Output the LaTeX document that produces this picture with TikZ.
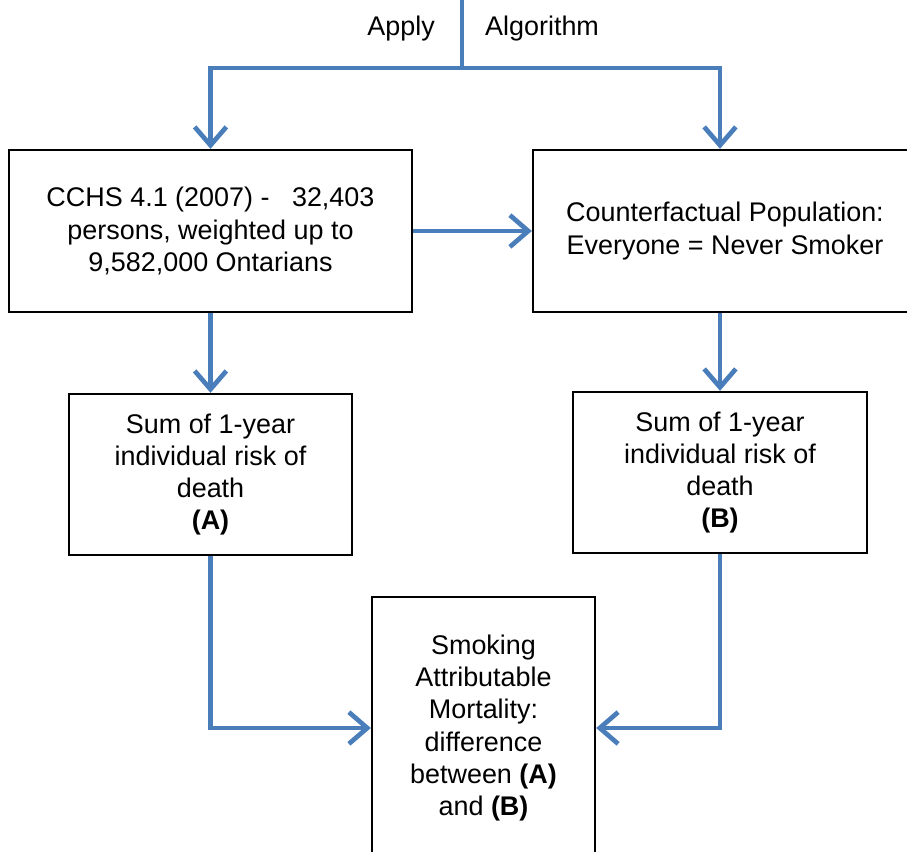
\documentclass[tikz,border=0pt]{standalone}
\usepackage{fontspec}
\setmainfont{Liberation Sans}
\usepackage{tikz}
\usetikzlibrary{arrows.meta,positioning}
\definecolor{FlowBlue}{HTML}{4A7EBB}

\tikzset{
    stagebox/.style={draw=black, line width=2pt, align=center, inner sep=0pt,
        font=\fontsize{23}{27.5}\selectfont},
    flow/.style={draw=FlowBlue, line width=4pt,
        -{Straight Barb[length=0.55cm,width=0.95cm,line width=4pt]}},
}

\begin{document}
\begin{tikzpicture}[x=0.03cm,y=-0.03cm]
        \useasboundingbox (0,0) rectangle (907,852);
        \clip (0,0) rectangle (907,852);

        % boxes
        \node[stagebox, minimum width=403*0.03cm, minimum height=162*0.03cm] (cchs) at (210.5,231)
            {CCHS 4.1 (2007) -\ \ \ 32,403\\persons, weighted up to\\9,582,000 Ontarians};
        \node[stagebox, minimum width=384*0.03cm, minimum height=162*0.03cm] (counter) at (725,231)
            {Counterfactual Population:\\Everyone = Never Smoker};
        \node[stagebox, minimum width=283*0.03cm, minimum height=161*0.03cm] (sumA) at (210.5,474.5)
            {Sum of 1-year\\individual risk of\\death\\\textbf{(A)}};
        \node[stagebox, minimum width=294*0.03cm, minimum height=161*0.03cm] (sumB) at (720,472.5)
            {Sum of 1-year\\individual risk of\\death\\\textbf{(B)}};
        \node[stagebox, minimum width=223*0.03cm, minimum height=262*0.03cm] (sam) at (483.5,728)
            {Smoking\\Attributable\\Mortality:\\difference\\between \textbf{(A)}\\and \textbf{(B)}};

        % top label
        \coordinate (top) at (462,0);
        \node[anchor=east, font=\fontsize{23}{27.5}\selectfont] (apply) at (439,29) {Apply};
        \node[anchor=west, font=\fontsize{23}{27.5}\selectfont] (algo) at (481,29) {Algorithm};

        % connectors
        \draw[flow, -] (top) -- ++(0,68) coordinate (split);
        \draw[flow] (split) -| (cchs.north);
        \draw[flow] (split) -| (counter.north -| sumB.north);
        \draw[flow] (cchs) -- (counter);
        \draw[flow] (cchs) -- (sumA);
        \draw[flow] (counter.south -| sumB.north) -- (sumB.north);
        \draw[flow] (sumA.south) |- (sam.west);
        \draw[flow] (sumB.south) |- (sam.east);
    \end{tikzpicture}
\end{document}
